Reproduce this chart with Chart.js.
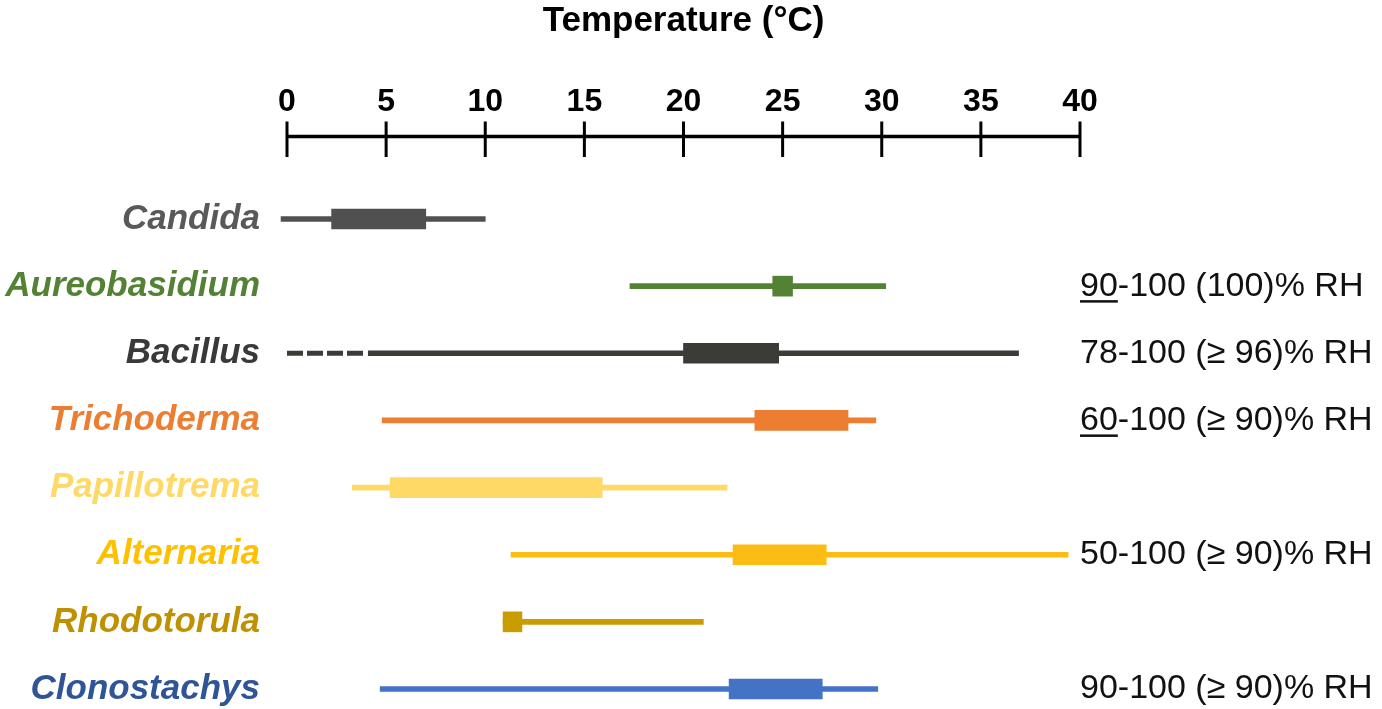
<!DOCTYPE html>
<html>
<head>
<meta charset="utf-8">
<script src="https://cdn.jsdelivr.net/npm/chart.js@4.4.1/dist/chart.umd.min.js"></script>
<style>
  html, body { margin: 0; padding: 0; background: #fff; }
  #wrap { width: 1382px; height: 709px; position: relative; }
</style>
</head>
<body>
<div id="wrap"><canvas id="tempChart"></canvas></div>
<script>
// organisms, top to bottom
const organisms = ['Candida', 'Aureobasidium', 'Bacillus', 'Trichoderma', 'Papillotrema', 'Alternaria', 'Rhodotorula', 'Clonostachys'];

// growth range (thin line) and optimum (thick box), °C
const growthRange = [[-0.3, 10], [17.3, 30.2], [4.1, 36.9], [4.8, 29.7], [3.3, 22.2], [11.3, 39.4], [10.9, 21.0], [4.7, 29.8]];
const optimumRange = [[2.25, 7.0], [24.5, 25.5], [20.0, 24.8], [23.6, 28.3], [5.2, 15.9], [22.5, 27.2], [10.9, 11.85], [22.3, 27.0]];

// Bacillus uncertain low end (dashed)
const bacillusDashed = [0, 3.9];

const tempTicks = [0, 5, 10, 15, 20, 25, 30, 35, 40];

// relative humidity notes (right side)
const rhMin = [null, 90, 78, 60, null, 50, null, 90];
const rhOpt = [null, '(100)', '(≥ 96)', '(≥ 90)', null, '(≥ 90)', null, '(≥ 90)'];
const rhMinUnderlined = [false, true, false, true, false, false, false, false];

const barColors = ['#505050', '#548235', '#3b3b38', '#ed7d31', '#ffd966', '#fbbc14', '#c99c00', '#4472c4'];
const labelColors = ['#595959', '#548235', '#3b3838', '#ed7d31', '#ffd966', '#ffc000', '#bf9000', '#2f5597'];

const FONT = '"Liberation Sans", Arial, sans-serif';

// axis line with ticks crossing it (drawn from the x scale)
const crossAxisPlugin = {
    id: 'crossAxis',
    afterDraw(chart) {
        const x = chart.scales.x;
        const ctx = chart.ctx;
        const yLine = 136.5;
        ctx.save();
        ctx.strokeStyle = '#000';
        ctx.lineWidth = 3.5;
        ctx.beginPath();
        ctx.moveTo(x.getPixelForValue(0), yLine);
        ctx.lineTo(x.getPixelForValue(40), yLine);
        ctx.stroke();
        ctx.lineWidth = 3;
        tempTicks.forEach(t => {
            const px = x.getPixelForValue(t);
            ctx.beginPath();
            ctx.moveTo(px, yLine - 15);
            ctx.lineTo(px, yLine + 20.5);
            ctx.stroke();
        });
        ctx.restore();
    }
};

// RH text on the right of each row
const rhPlugin = {
    id: 'rhText',
    afterDraw(chart) {
        const y = chart.scales.y;
        const ctx = chart.ctx;
        const left = chart.chartArea.right;
        ctx.save();
        ctx.font = '34px ' + FONT;
        ctx.fillStyle = '#111';
        ctx.textBaseline = 'middle';
        ctx.textAlign = 'left';
        organisms.forEach((name, i) => {
            if (rhMin[i] === null) return;
            const py = y.getPixelForValue(i);
            const first = String(rhMin[i]);
            const rest = '-100 ' + rhOpt[i] + '% RH';
            ctx.fillText(first, left, py);
            const w = ctx.measureText(first).width;
            ctx.fillText(rest, left + w, py);
            if (rhMinUnderlined[i]) {
                ctx.fillRect(left, py + 14, w, 2.5);
            }
        });
        ctx.restore();
    }
};

const ctx = document.getElementById('tempChart').getContext('2d');
new Chart(ctx, {
    type: 'bar',
    data: {
        labels: organisms,
        datasets: [
            {
                label: 'Optimum',
                data: optimumRange,
                backgroundColor: barColors,
                borderWidth: 0,
                barThickness: 20,
                grouped: false,
                clip: false,
                order: 1
            },
            {
                label: 'Range',
                data: growthRange,
                backgroundColor: barColors,
                borderWidth: 0,
                barThickness: 5,
                grouped: false,
                clip: false,
                order: 2
            },
            {
                type: 'line',
                label: 'Bacillus (uncertain)',
                data: bacillusDashed.map(v => ({ x: v, y: 'Bacillus' })),
                borderColor: barColors[2],
                borderWidth: 5,
                borderDash: [16, 4],
                pointRadius: 0,
                fill: false,
                clip: false,
                order: 3
            }
        ]
    },
    options: {
        indexAxis: 'y',
        responsive: true,
        maintainAspectRatio: false,
        animation: false,
        layout: { padding: { left: 0, right: 302, top: 0, bottom: 20 } },
        plugins: {
            legend: { display: false },
            tooltip: { enabled: false }
        },
        scales: {
            x: {
                type: 'linear',
                position: 'top',
                min: 0,
                max: 40,
                grid: { display: false },
                border: { display: false },
                ticks: {
                    stepSize: 5,
                    padding: 90,
                    color: '#000',
                    font: { family: FONT, size: 32, weight: 'bold' }
                },
                title: {
                    display: true,
                    text: 'Temperature (°C)',
                    color: '#000',
                    padding: { top: 0, bottom: 0 },
                    font: { family: FONT, size: 35, weight: 'bold' }
                },
                afterFit(scale) { scale.height = 219; }
            },
            y: {
                type: 'category',
                offset: false,
                grid: { display: false },
                border: { display: false },
                ticks: {
                    padding: 19,
                    color: c => labelColors[c.index],
                    font: { family: FONT, size: 35, weight: 'bold', style: 'italic' }
                },
                afterFit(scale) {
                    scale.width = 287;
                    scale.paddingTop = 0;
                    scale.paddingBottom = 0;
                }
            }
        }
    },
    plugins: [crossAxisPlugin, rhPlugin]
});
</script>
</body>
</html>
